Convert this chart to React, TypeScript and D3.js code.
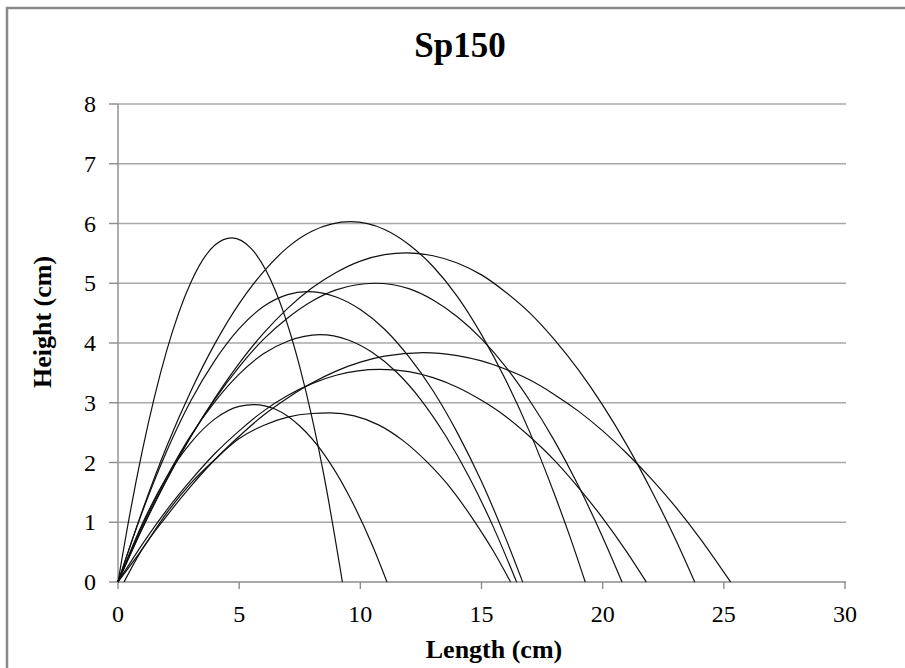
import React from 'react'
import * as d3 from 'd3'

// tick values
const xTicks = [0, 5, 10, 15, 20, 25, 30]
const yTicks = [0, 1, 2, 3, 4, 5, 6, 7, 8]

// trajectories, [length, height] in cm
const traj1: [number, number][] = [[0, 0], [0.5, 1.16], [1, 2.19], [2, 3.86], [3, 5.01], [4, 5.64], [4.7, 5.76], [5.5, 5.58], [6.5, 4.87], [7.5, 3.6], [8.5, 1.78], [9.26, 0]]
const traj2: [number, number][] = [[0, 0], [1, 0.97], [2, 1.75], [3, 2.33], [4, 2.73], [5, 2.94], [5.6, 2.97], [6.5, 2.89], [7.5, 2.61], [8.5, 2.14], [9.5, 1.47], [10.5, 0.61], [11.1, 0]]
const traj3: [number, number][] = [[0, 0], [1, 0.55], [2, 1.15], [3, 1.65], [4, 2.05], [5, 2.4], [6, 2.62], [7, 2.76], [8, 2.82], [8.75, 2.83], [9.75, 2.78], [10.75, 2.63], [11.75, 2.37], [12.75, 2.01], [13.75, 1.56], [14.75, 0.99], [15.5, 0.51], [16.2, 0]]
const traj4: [number, number][] = [[0, 0], [1, 0.94], [2, 1.75], [3, 2.45], [4, 3.02], [5, 3.48], [6, 3.82], [7, 4.03], [8.33, 4.14], [9.5, 4.05], [10.5, 3.84], [11.5, 3.51], [12.5, 3.05], [13.5, 2.46], [14.5, 1.75], [15.5, 0.91], [16.45, 0]]
const traj5: [number, number][] = [[0, 0], [1, 1.17], [2, 2.18], [3, 3.03], [4, 3.71], [5, 4.24], [6, 4.61], [7, 4.81], [7.8, 4.86], [9, 4.77], [10, 4.56], [11, 4.23], [12, 3.77], [13, 3.2], [14, 2.5], [15, 1.68], [16, 0.73], [16.7, 0]]
const traj6: [number, number][] = [[0, 0], [1, 1.19], [2, 2.26], [3, 3.19], [4, 3.99], [5, 4.66], [6, 5.19], [7, 5.6], [8, 5.87], [9.6, 6.03], [11, 5.9], [12, 5.65], [13, 5.28], [14, 4.78], [15, 4.14], [16, 3.38], [17, 2.5], [18, 1.48], [18.7, 0.7], [19.28, 0]]
const traj7: [number, number][] = [[0, 0], [1, 0.9], [2, 1.71], [3, 2.43], [4, 3.06], [5, 3.6], [6, 4.06], [7, 4.42], [8, 4.7], [9, 4.89], [10.6, 5.0], [12, 4.91], [13, 4.72], [14, 4.44], [15, 4.07], [16, 3.6], [17, 3.03], [18, 2.37], [19, 1.61], [20, 0.75], [20.8, 0]]
const traj8: [number, number][] = [[0, 0], [1, 0.89], [2, 1.7], [3, 2.43], [4, 3.08], [5, 3.66], [6, 4.16], [7, 4.58], [8, 4.92], [9, 5.18], [10, 5.37], [11, 5.48], [11.9, 5.51], [13, 5.46], [14, 5.34], [15, 5.14], [16, 4.85], [17, 4.5], [18, 4.06], [19, 3.55], [20, 2.96], [21, 2.29], [22, 1.54], [23, 0.72], [23.8, 0]]
const traj9: [number, number][] = [[0, 0], [1, 0.63], [2, 1.2], [3, 1.7], [4, 2.15], [5, 2.53], [6, 2.86], [7, 3.12], [8, 3.32], [9, 3.46], [10.8, 3.56], [12, 3.52], [13, 3.42], [14, 3.26], [15, 3.04], [16, 2.77], [17, 2.43], [18, 2.04], [19, 1.58], [20, 1.07], [21, 0.5], [21.8, 0]]
const traj10: [number, number][] = [[0.25, 0], [1, 0.55], [2, 1.1], [3, 1.6], [4, 2.05], [5, 2.44], [6, 2.79], [7, 3.08], [8, 3.33], [9, 3.53], [10, 3.68], [11, 3.78], [12.6, 3.84], [14, 3.79], [15, 3.7], [16, 3.56], [17, 3.38], [18, 3.14], [19, 2.86], [20, 2.53], [21, 2.15], [22, 1.73], [23, 1.26], [24, 0.74], [25.28, 0]]

const series = [traj1, traj2, traj3, traj4, traj5, traj6, traj7, traj8, traj9, traj10]

const W = 905, H = 668
const left = 118, right = 845, top = 104, bottom = 582

const App = () => {
    const x = d3.scaleLinear().domain([0, 30]).range([left, right])
    const y = d3.scaleLinear().domain([0, 8]).range([bottom, top])

    const line = d3.line<[number, number]>()
        .x(d => x(d[0]))
        .y(d => y(d[1]))
        .curve(d3.curveMonotoneX)

    const font = '"Liberation Serif", "Times New Roman", serif'

    return (
        <svg width={W} height={H} style={{ position: 'absolute', left: 0, top: 0, background: '#fff' }}>
            <rect x={7} y={8} width={W} height={H} fill="#fff" stroke="#8a8a8a" strokeWidth={2.5} />

            {/* gridlines */}
            {yTicks.filter(t => t > 0).map(t => (
                <line key={'g' + t} x1={left} x2={right + 1} y1={y(t)} y2={y(t)} stroke="#a8a8a8" strokeWidth={1.4} />
            ))}

            {/* axes */}
            <line x1={left} x2={left} y1={top} y2={bottom} stroke="#8c8c8c" strokeWidth={1.4} />
            <line x1={left} x2={right + 1} y1={bottom} y2={bottom} stroke="#8c8c8c" strokeWidth={1.4} />
            {yTicks.map(t => (
                <g key={'y' + t}>
                    <line x1={left - 9} x2={left} y1={y(t)} y2={y(t)} stroke="#8c8c8c" strokeWidth={1.4} />
                    <text x={left - 22} y={y(t)} dy="0.34em" textAnchor="end" fontFamily={font} fontSize={24}>{t}</text>
                </g>
            ))}
            {xTicks.map(t => (
                <g key={'x' + t}>
                    <line x1={x(t)} x2={x(t)} y1={bottom} y2={bottom + 7} stroke="#8c8c8c" strokeWidth={1.4} />
                    <text x={x(t)} y={622} textAnchor="middle" fontFamily={font} fontSize={24}>{t}</text>
                </g>
            ))}

            {/* trajectories */}
            {series.map((s, i) => (
                <path key={i} d={line(s) || ''} fill="none" stroke="#111" strokeWidth={1.2} />
            ))}

            <text x={460} y={57} textAnchor="middle" fontFamily={font} fontSize={35} fontWeight="bold">Sp150</text>
            <text x={494} y={658} textAnchor="middle" fontFamily={font} fontSize={26} fontWeight="bold">Length (cm)</text>
            <text transform="translate(51,322) rotate(-90)" textAnchor="middle" fontFamily={font} fontSize={26} fontWeight="bold">Height (cm)</text>
        </svg>
    )
}

export default App
